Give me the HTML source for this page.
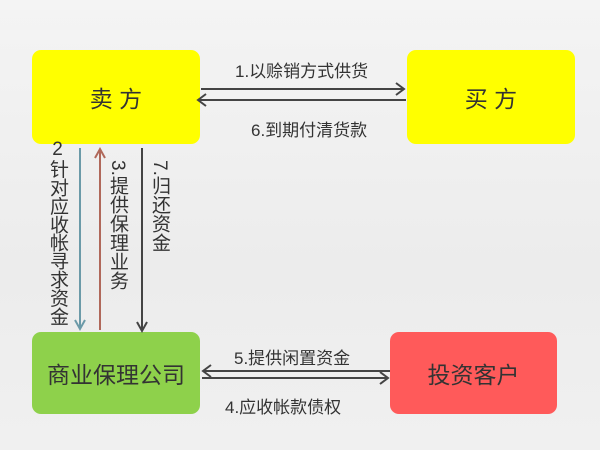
<!DOCTYPE html>
<html><head><meta charset="utf-8"><style>
body{margin:0;width:600px;height:450px;overflow:hidden;background:linear-gradient(180deg,#f4f4f4 0%,#ececec 60%,#f0f0f0 100%);font-family:"Liberation Sans","Noto Sans CJK SC",sans-serif;position:relative}
.b{position:absolute;border-radius:9px;display:flex;align-items:center;justify-content:center;color:#333;font-size:23px}
.t{position:absolute;font-size:17px;color:#333;white-space:nowrap}
.v{position:absolute;writing-mode:vertical-rl;font-size:19px;color:#333;line-height:1;letter-spacing:0}
</style></head><body>
<div class="b" style="left:32px;top:50px;width:168px;height:94px;background:#ffff00">卖 方</div>
<div class="b" style="left:407px;top:50px;width:168px;height:94px;background:#ffff00">买 方</div>
<div class="b" style="left:32px;top:332px;width:168px;height:82px;background:#8ed14b">商业保理公司</div>
<div class="b" style="left:390px;top:332px;width:167px;height:82px;background:#ff5a5a">投资客户</div>
<svg width="600" height="450" style="position:absolute;left:0;top:0">
<g stroke="#444" stroke-width="2" fill="none">
<line x1="201" y1="89" x2="404" y2="89"/><polyline points="396,83 404,89 396,95"/>
<line x1="406" y1="100" x2="198" y2="100"/><polyline points="206,94 198,100 206,106"/>
<line x1="142" y1="148" x2="142" y2="331"/><polyline points="137,322 142,331 147,322"/>
<line x1="390" y1="371" x2="203" y2="371"/><polyline points="211,365 203,371 211,377"/>
<line x1="202" y1="378" x2="388" y2="378"/><polyline points="380,372 388,378 380,384"/>
</g>
<g stroke="#6b9aa8" stroke-width="2" fill="none"><line x1="80" y1="148" x2="80" y2="329"/><polyline points="75,320 80,329 85,320"/></g>
<g stroke="#b0685a" stroke-width="2" fill="none"><line x1="100" y1="330" x2="100" y2="149"/><polyline points="95,158 100,149 105,158"/></g>
</svg>
<div class="t" style="left:235px;top:57px">1.以赊销方式供货</div>
<div class="t" style="left:251px;top:116px">6.到期付清货款</div>
<div class="t" style="left:234px;top:344px">5.提供闲置资金</div>
<div class="t" style="left:225px;top:393px">4.应收帐款债权</div>
<div class="v" style="left:48px;top:139px;text-orientation:upright;font-size:19px;letter-spacing:-0.6px">2针对应收帐寻求资金</div>
<div class="v" style="left:108px;top:160px">3.提供保理业务</div>
<div class="v" style="left:150px;top:160px">7.归还资金</div>
</body></html>
